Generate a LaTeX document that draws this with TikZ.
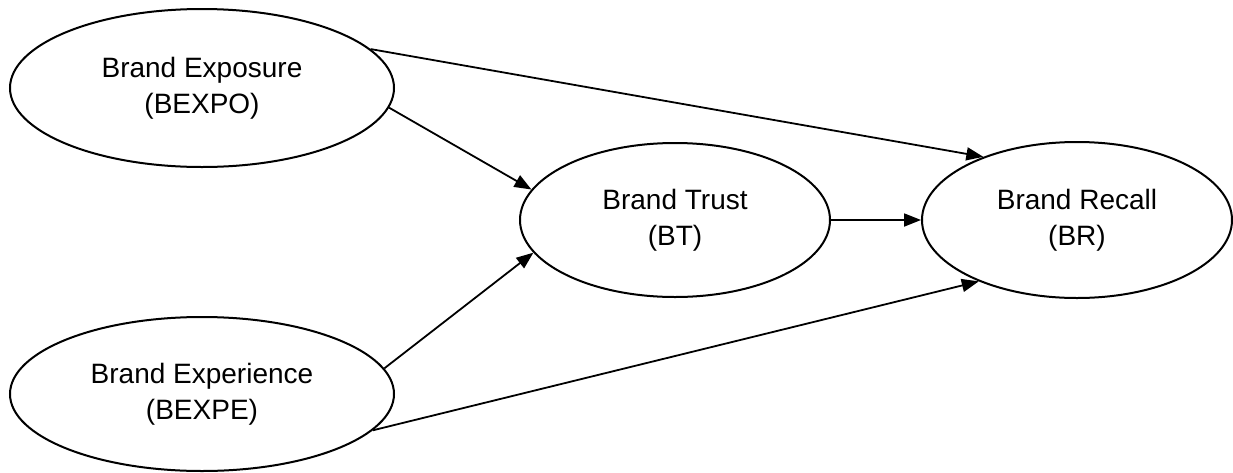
\documentclass[tikz,border=0pt]{standalone}
\usepackage{fontspec}
\setmainfont{Liberation Sans}
\usetikzlibrary{shapes.geometric,arrows.meta}
\begin{document}
\begin{tikzpicture}[x=0.5pt,y=-0.5pt,
  construct/.style={draw=black, line width=1pt, ellipse, inner sep=0pt, align=center,
    font=\fontsize{14pt}{18pt}\selectfont, fill=white},
  link/.style={draw=black, line width=0.9pt, -{Triangle[length=8.5pt,width=6.5pt]}}]
\useasboundingbox (0,0) rectangle (1233,472);
\node[construct, minimum width=192pt, minimum height=79pt] (bexpo) at (202,88) {Brand Exposure\\(BEXPO)};
\node[construct, minimum width=192pt, minimum height=77pt] (bexpe) at (202,394) {Brand Experience\\(BEXPE)};
\node[construct, minimum width=155pt, minimum height=77pt] (bt) at (675,220) {Brand Trust\\(BT)};
\node[construct, minimum width=155pt, minimum height=78pt] (br) at (1077,220) {Brand Recall\\(BR)};
\draw[link] (bexpo.13.7) -- (br.146.7);
\draw[link] (bexpo.-6) -- (bt.168.2);
\draw[link] (bexpe.8) -- (bt.193.7);
\draw[link] (bexpe.-12.3) -- (br.212.5);
\draw[link] (bt.east) -- (br.west);
\end{tikzpicture}
\end{document}
